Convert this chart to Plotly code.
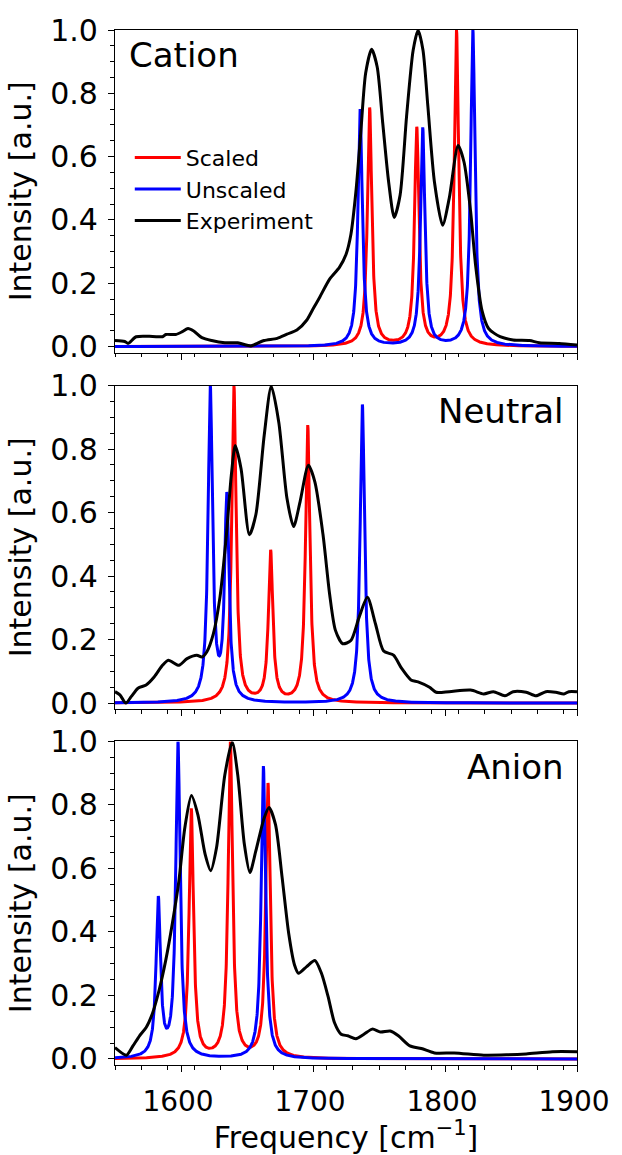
import numpy as np
import plotly.graph_objects as go

# ---------------- data ----------------
freq_range = [1550, 1900]
x_ticks = [1600, 1700, 1800, 1900]
y_ticks = [0.0, 0.2, 0.4, 0.6, 0.8, 1.0]
panel_names = ["Cation", "Neutral", "Anion"]
series_names = ["Scaled", "Unscaled", "Experiment"]

# computed stick spectra: peak centres [cm^-1] and relative intensities
cation_scaled_pos = [1742.9, 1778.6, 1808.7]
cation_scaled_int = [0.755, 0.69, 1.0]
cation_unscaled_pos = [1735.7, 1783.1, 1821.1]
cation_unscaled_int = [0.75, 0.69, 1.0]

neutral_scaled_pos = [1640.1, 1667.9, 1696.0]
neutral_scaled_int = [1.0, 0.475, 0.875]
neutral_unscaled_pos = [1622.2, 1634.7, 1737.4]
neutral_unscaled_int = [1.0, 0.65, 0.955]

anion_scaled_pos = [1607.8, 1637.4, 1665.9]
anion_scaled_int = [0.79, 1.0, 0.87]
anion_unscaled_pos = [1582.8, 1597.7, 1662.4]
anion_unscaled_int = [0.50, 1.0, 0.93]

lorentz_hwhm = 2.0  # cm^-1 broadening of the computed sticks

cation_exp_freq = [1550, 1557.4, 1560, 1566, 1578.5, 1586, 1588.5, 1596, 1601, 1605.3,
                   1609.6, 1615.8, 1623.2, 1633.2, 1643, 1649.3, 1653, 1656.7, 1663, 1672.9,
                   1680.3, 1687.8, 1695.2, 1700.2, 1705.1, 1712.6, 1720, 1725, 1728.7, 1732.5,
                   1736.2, 1739.9, 1744.4, 1748.6, 1752.8, 1757.3, 1761.5, 1766, 1770.9, 1775.9,
                   1779.6, 1783.3, 1787, 1792, 1798.2, 1803.2, 1809.9, 1814.4, 1819.4, 1823.1,
                   1828, 1833, 1841.7, 1851.6, 1864, 1871.5, 1886.4, 1900]
cation_exp_int = [0.019, 0.016, 0.010, 0.031, 0.032, 0.031, 0.038, 0.038, 0.047, 0.057,
                  0.049, 0.028, 0.019, 0.012, 0.012, 0.005, 0.002, 0.008, 0.019, 0.026,
                  0.039, 0.052, 0.083, 0.12, 0.156, 0.213, 0.250, 0.291, 0.354, 0.489,
                  0.676, 0.864, 0.939, 0.884, 0.707, 0.520, 0.408, 0.479, 0.728, 0.937,
                  0.999, 0.937, 0.760, 0.520, 0.383, 0.468, 0.635, 0.583, 0.427, 0.260,
                  0.114, 0.057, 0.031, 0.021, 0.019, 0.012, 0.010, 0.005]

neutral_exp_freq = [1550, 1553.7, 1558.2, 1562.4, 1567.4, 1573.6, 1579.8, 1586, 1590.4, 1598.4,
                    1604.6, 1612, 1615.8, 1619.5, 1624.5, 1629.5, 1634.4, 1638.1, 1641.1, 1645.5,
                    1651.8, 1656.7, 1663, 1668.4, 1674.1, 1680.3, 1685.3, 1690.2, 1696.5, 1701.4,
                    1707.6, 1712.6, 1717, 1722.5, 1728.7, 1734.9, 1741.2, 1747.3, 1753.5, 1761,
                    1767.2, 1774.2, 1779.6, 1788.3, 1793.3, 1803.2, 1819.4, 1829.3, 1836.7, 1845.4,
                    1851.6, 1861.5, 1869, 1876.4, 1883.9, 1890.1, 1893.8, 1900]
neutral_exp_int = [0.036, 0.026, 0.0, 0.021, 0.047, 0.057, 0.083, 0.119, 0.135, 0.119,
                   0.140, 0.151, 0.145, 0.161, 0.218, 0.333, 0.530, 0.717, 0.811, 0.738,
                   0.530, 0.593, 0.842, 0.998, 0.884, 0.644, 0.556, 0.634, 0.749, 0.697,
                   0.530, 0.343, 0.229, 0.187, 0.197, 0.270, 0.333, 0.250, 0.164, 0.151,
                   0.109, 0.073, 0.067, 0.050, 0.034, 0.036, 0.041, 0.029, 0.036, 0.023,
                   0.036, 0.034, 0.023, 0.036, 0.034, 0.029, 0.036, 0.036]

anion_exp_freq = [1550, 1558.7, 1563.6, 1568.6, 1573.6, 1578.5, 1583.5, 1588.5, 1593.4, 1598.4,
                  1602.9, 1607.9, 1612.8, 1618.3, 1622.5, 1626.9, 1633.2, 1638.8, 1643, 1648,
                  1652.2, 1656.7, 1663, 1666.7, 1671.6, 1676.6, 1681.6, 1686, 1689, 1695.2,
                  1701.4, 1706.4, 1711.4, 1716.3, 1721.3, 1726.3, 1732.5, 1738.6, 1744.9, 1751.1,
                  1758.5, 1764.7, 1773.4, 1782.1, 1792, 1806.9, 1829.3, 1846.6, 1861.5, 1881.4, 1900]
anion_exp_int = [0.036, 0.012, 0.041, 0.073, 0.099, 0.145, 0.218, 0.312, 0.426, 0.561,
                 0.728, 0.830, 0.769, 0.644, 0.593, 0.665, 0.894, 0.998, 0.894, 0.676,
                 0.587, 0.655, 0.759, 0.792, 0.738, 0.572, 0.395, 0.296, 0.270, 0.291,
                 0.310, 0.270, 0.197, 0.114, 0.078, 0.073, 0.064, 0.078, 0.094, 0.085,
                 0.088, 0.073, 0.041, 0.033, 0.019, 0.019, 0.012, 0.013, 0.016, 0.023, 0.023]

# ---------------- helpers ----------------
grid = np.linspace(freq_range[0], freq_range[1], 3501)


def broaden(pos, inten):
    spec = np.zeros_like(grid)
    for p, h in zip(pos, inten):
        spec += h * lorentz_hwhm**2 / ((grid - p) ** 2 + lorentz_hwhm**2)
    return spec / spec.max()


panels = [
    (cation_scaled_pos, cation_scaled_int, cation_unscaled_pos, cation_unscaled_int,
     cation_exp_freq, cation_exp_int),
    (neutral_scaled_pos, neutral_scaled_int, neutral_unscaled_pos, neutral_unscaled_int,
     neutral_exp_freq, neutral_exp_int),
    (anion_scaled_pos, anion_scaled_int, anion_unscaled_pos, anion_unscaled_int,
     anion_exp_freq, anion_exp_int),
]
colors = ["#ff0000", "#0000ff", "#000000"]

fig = go.Figure()
for i, (sp, si, up, ui, ef, ei) in enumerate(panels):
    ax = "" if i == 0 else str(i + 1)
    ys = [broaden(sp, si), broaden(up, ui)]
    for k in range(2):
        fig.add_trace(go.Scatter(x=grid, y=ys[k], mode="lines", name=series_names[k],
                                 line=dict(color=colors[k], width=3),
                                 showlegend=(i == 0), xaxis="x" + ax, yaxis="y" + ax))
    fig.add_trace(go.Scatter(x=ef, y=ei, mode="lines", name=series_names[2],
                             line=dict(color=colors[2], width=3, shape="spline",
                                       smoothing=0.7),
                             showlegend=(i == 0), xaxis="x" + ax, yaxis="y" + ax))

FONT = "DejaVu Sans"
TICK_SIZE = 30
XTICK_SIZE = 28
TITLE_SIZE = 30
L, R, T, B = 115, 37, 23, 85
H = 1155 - T - B
domains = [
    [(1070 - 349.3) / H, 1.0],
    [(1070 - 710) / H, (1070 - 382.7) / H],
    [0.0, (1070 - 742.7) / H],
]

layout = dict(
    width=622, height=1155,
    margin=dict(l=L, r=R, t=T, b=B),
    paper_bgcolor="white", plot_bgcolor="white",
    font=dict(family=FONT, size=TICK_SIZE, color="black"),
    showlegend=True,
    legend=dict(x=0.032, y=0.897, xanchor="left", yanchor="top",
                bgcolor="rgba(0,0,0,0)", borderwidth=0,
                font=dict(size=22, family=FONT), traceorder="grouped",
                tracegroupgap=2, itemwidth=46),
)

for i in range(3):
    ax = "" if i == 0 else str(i + 1)
    layout["xaxis" + ax] = dict(
        domain=[0, 1], anchor="y" + ax, range=freq_range,
        tickvals=x_ticks, showticklabels=(i == 2), ticklabeloverflow="allow",
        ticklabelshift=-3,
        ticks="outside", ticklen=6, tickwidth=1.3, tickcolor="black",
        minor=dict(dtick=20, tick0=1550, ticks="outside", ticklen=3.5, tickwidth=1.1,
                   tickcolor="black"),
        showline=True, linecolor="black", linewidth=1.3, mirror=True,
        showgrid=False, zeroline=False,
        tickfont=dict(size=XTICK_SIZE, family=FONT), ticklabelstandoff=5,
        title=dict(text="Frequency [cm<sup>−1</sup>]" if i == 2 else "",
                   font=dict(size=TITLE_SIZE, family=FONT), standoff=4),
    )
    if i != 0:
        layout["xaxis" + ax]["matches"] = "x"
    layout["yaxis" + ax] = dict(
        domain=domains[i], anchor="x" + ax, range=[-0.019, 1.0],
        tickvals=y_ticks, tickformat=".1f", ticklabeloverflow="allow",
        ticks="outside", ticklen=6, tickwidth=1.3, tickcolor="black",
        minor=dict(dtick=0.05, tick0=0, ticks="outside", ticklen=3.5, tickwidth=1.1,
                   tickcolor="black"),
        showline=True, linecolor="black", linewidth=1.3, mirror=True,
        showgrid=False, zeroline=False,
        tickfont=dict(size=TICK_SIZE, family=FONT), ticklabelstandoff=4,
        title=dict(text="Intensity [a.u.]", font=dict(size=TITLE_SIZE, family=FONT),
                   standoff=9),
    )

fig.update_layout(**layout)

# panel labels
label_pos = [(0.025, "left"), (0.977, "right"), (0.977, "right")]
for i, name in enumerate(panel_names):
    ax = "" if i == 0 else str(i + 1)
    xp, anc = label_pos[i]
    fig.add_annotation(text=name, xref="x" + ax + " domain", yref="y" + ax + " domain",
                       x=xp, y=0.99, xanchor=anc, yanchor="top", showarrow=False,
                       font=dict(size=34, family=FONT, color="black"))

fig.write_html("out.html", config={"displayModeBar": False},
               post_script="document.documentElement.style.overflow='hidden';"
                           "document.body.style.margin='0px';"
                           "document.body.style.overflow='hidden';")
